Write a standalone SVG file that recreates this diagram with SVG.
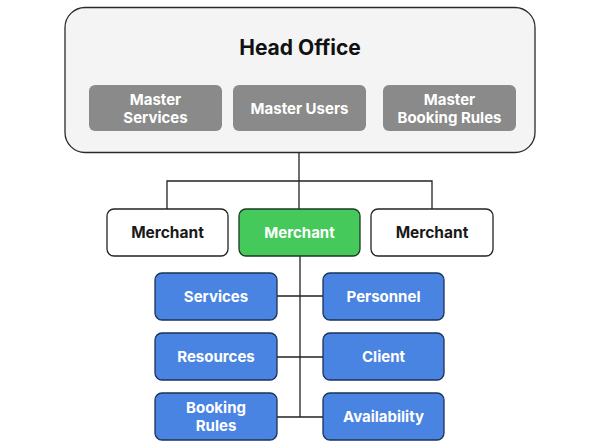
<svg xmlns="http://www.w3.org/2000/svg" width="600" height="447" viewBox="0 0 600 447">
<style>
.t{font-family:"Inter","Noto Sans","DejaVu Sans",sans-serif;font-weight:700;text-anchor:middle}
.w{fill:#fff;font-size:15px}
.k{fill:#1a1a1a;font-size:15.5px}
.m{fill:#8a8a8a}
.b{fill:#4a84e2;stroke:#1d3257;stroke-width:1.3}
.c{fill:none;stroke:#222;stroke-width:1.3}
</style>
<rect width="600" height="447" fill="#fff"/>
<g id="connectors">
<path class="c" d="M299 153V181M167 209V181H432V209M299 181V256M300 256V417M277 296H323M277 357H323M277 417H323"/>
</g>
<g id="head-office">
<rect x="65" y="7.5" width="470" height="145" rx="20" fill="#f4f4f4" stroke="#2a2a2a" stroke-width="1.3"/>
<text class="t" x="300" y="54.5" fill="#111" font-size="21">Head Office</text>
</g>
<g id="master-services">
<rect class="m" x="89" y="85" width="133" height="46" rx="6"/>
<text class="t w" x="155.5" y="105">Master</text><text class="t w" x="155.5" y="123">Services</text>
</g>
<g id="master-users">
<rect class="m" x="233" y="85" width="133" height="46" rx="6"/>
<text class="t w" x="299.5" y="113.5">Master Users</text>
</g>
<g id="master-booking-rules">
<rect class="m" x="383" y="85" width="133" height="46" rx="6"/>
<text class="t w" x="449.5" y="105">Master</text><text class="t w" x="449.5" y="123">Booking Rules</text>
</g>
<g id="merchant-left">
<rect x="107" y="209" width="121" height="47" rx="7" fill="#fff" stroke="#222" stroke-width="1.3"/>
<text class="t k" x="167.5" y="238">Merchant</text>
</g>
<g id="merchant-center">
<rect x="239" y="209" width="121" height="47" rx="7" fill="#44c95a" stroke="#1c3a22" stroke-width="1.3"/>
<text class="t w" x="299.5" y="238" font-size="15.5">Merchant</text>
</g>
<g id="merchant-right">
<rect x="371" y="209" width="122" height="47" rx="7" fill="#fff" stroke="#222" stroke-width="1.3"/>
<text class="t k" x="432" y="238">Merchant</text>
</g>
<g id="services">
<rect class="b" x="155" y="273" width="122" height="47" rx="7"/>
<text class="t w" x="216" y="301.5">Services</text>
</g>
<g id="personnel">
<rect class="b" x="323" y="273" width="121" height="47" rx="7"/>
<text class="t w" x="383.5" y="301.5">Personnel</text>
</g>
<g id="resources">
<rect class="b" x="155" y="333" width="122" height="47" rx="7"/>
<text class="t w" x="216" y="362">Resources</text>
</g>
<g id="client">
<rect class="b" x="323" y="333" width="121" height="47" rx="7"/>
<text class="t w" x="383.5" y="362">Client</text>
</g>
<g id="booking-rules">
<rect class="b" x="155" y="393" width="122" height="47" rx="7"/>
<text class="t w" x="216" y="413">Booking</text><text class="t w" x="216" y="431">Rules</text>
</g>
<g id="availability">
<rect class="b" x="323" y="393" width="121" height="47" rx="7"/>
<text class="t w" x="383.5" y="422">Availability</text>
</g>
</svg>
